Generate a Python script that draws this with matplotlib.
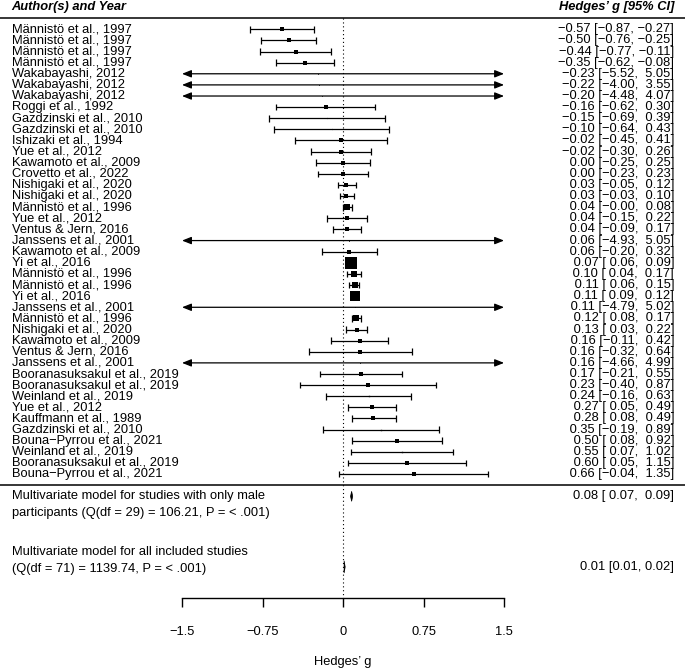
import numpy as np
import matplotlib.pyplot as plt

plt.rcParams['font.family'] = ['Liberation Sans', 'DejaVu Sans']

# study rows, top to bottom
authors = ["Männistö et al., 1997", "Männistö et al., 1997", "Männistö et al., 1997",
           "Männistö et al., 1997", "Wakabayashi, 2012", "Wakabayashi, 2012",
           "Wakabayashi, 2012", "Roggi et al., 1992", "Gazdzinski et al., 2010",
           "Gazdzinski et al., 2010", "Ishizaki et al., 1994", "Yue et al., 2012",
           "Kawamoto et al., 2009", "Crovetto et al., 2022", "Nishigaki et al., 2020",
           "Nishigaki et al., 2020", "Männistö et al., 1996", "Yue et al., 2012",
           "Ventus & Jern, 2016", "Janssens et al., 2001", "Kawamoto et al., 2009",
           "Yi et al., 2016", "Männistö et al., 1996", "Männistö et al., 1996",
           "Yi et al., 2016", "Janssens et al., 2001", "Männistö et al., 1996",
           "Nishigaki et al., 2020", "Kawamoto et al., 2009", "Ventus & Jern, 2016",
           "Janssens et al., 2001", "Booranasuksakul et al., 2019",
           "Booranasuksakul et al., 2019", "Weinland et al., 2019", "Yue et al., 2012",
           "Kauffmann et al., 1989", "Gazdzinski et al., 2010",
           "Bouna\u2212Pyrrou et al., 2021", "Weinland et al., 2019",
           "Booranasuksakul et al., 2019", "Bouna\u2212Pyrrou et al., 2021"]
est = [-0.57, -0.50, -0.44, -0.35, -0.23, -0.22, -0.20, -0.16, -0.15, -0.10, -0.02, -0.02,
       0.00, 0.00, 0.03, 0.03, 0.04, 0.04, 0.04, 0.06, 0.06, 0.07, 0.10, 0.11, 0.11, 0.11,
       0.12, 0.13, 0.16, 0.16, 0.16, 0.17, 0.23, 0.24, 0.27, 0.28, 0.35, 0.50, 0.55, 0.60, 0.66]
lower = [-0.87, -0.76, -0.77, -0.62, -5.52, -4.00, -4.48, -0.62, -0.69, -0.64, -0.45, -0.30,
         -0.25, -0.23, -0.05, -0.03, -0.0, -0.15, -0.09, -4.93, -0.20, 0.06, 0.04, 0.06, 0.09,
         -4.79, 0.08, 0.03, -0.11, -0.32, -4.66, -0.21, -0.40, -0.16, 0.05, 0.08, -0.19, 0.08,
         0.07, 0.05, -0.04]
upper = [-0.27, -0.25, -0.11, -0.08, 5.05, 3.55, 4.07, 0.30, 0.39, 0.43, 0.41, 0.26,
         0.25, 0.23, 0.12, 0.10, 0.08, 0.22, 0.17, 5.05, 0.32, 0.09, 0.17, 0.15, 0.12,
         5.02, 0.17, 0.22, 0.42, 0.64, 4.99, 0.55, 0.87, 0.63, 0.49, 0.49, 0.89, 0.92,
         1.02, 1.15, 1.35]
# square side (points), roughly from weights
sq = [3.0, 3.2, 3.2, 3.2, 0.5, 0.5, 0.5, 2.6, 0.8, 0.8, 2.6, 2.8, 2.8, 2.6, 3.2, 3.2,
      5.0, 2.6, 2.6, 0.5, 2.6, 8.0, 4.4, 5.0, 7.2, 0.5, 4.4, 3.0, 2.6, 2.6, 0.5, 2.6,
      2.6, 1.0, 3.0, 3.0, 1.0, 2.6, 1.0, 2.6, 2.6]

# pooled models
sum_text = [["Multivariate model for studies with only male",
             "participants (Q(df = 29) = 106.21, P = < .001)"],
            ["Multivariate model for all included studies",
             "(Q(df = 71) = 1139.74, P = < .001)"]]
sum_est = [0.08, 0.01]
sum_lo = [0.07, 0.01]
sum_hi = [0.09, 0.02]
sum_lab = ["0.08 [ 0.07,  0.09]", "0.01 [0.01, 0.02]"]

ticks = [-1.5, -0.75, 0, 0.75, 1.5]
tick_labels = ["\u22121.5", "\u22120.75", "0", "0.75", "1.5"]
alim = 1.5

fs = 9.3
fig = plt.figure(figsize=(6.85, 6.69), dpi=100)
ax = fig.add_axes([0, 0, 1, 1])
ax.set_xlim(-3.196, 3.186)
ax.set_ylim(58.53, -1.635)
ax.axis('off')

k = len(est)
rows = np.arange(1, k + 1)
xl = -3.087
xr = 3.084


def fmt(v):
    return f"{v:5.2f}".replace("-", "\u2212")


ax.text(xl, -1.0, "Author(s) and Year", fontsize=fs, fontweight='bold', fontstyle='italic',
        ha='left', va='center')
ax.text(xr, -1.0, "Hedges\u2019 g [95% CI]", fontsize=fs, fontweight='bold', fontstyle='italic',
        ha='right', va='center')
ax.axhline(0, color='black', lw=1.1)
ax.axhline(k + 1, color='black', lw=1.1)
ax.plot([0, 0], [0, 52.1], color='black', lw=0.8, linestyle=(0, (1, 2.5)))

for i in range(k):
    y = rows[i]
    ax.text(xl, y, authors[i], fontsize=fs, ha='left', va='center')
    ax.text(xr, y, f"{fmt(est[i])} [{fmt(lower[i])}, {fmt(upper[i])}]", fontsize=fs,
            ha='right', va='center')
    if lower[i] < -alim or upper[i] > alim:
        ax.annotate('', xy=(alim, y), xytext=(-alim, y),
                    arrowprops=dict(arrowstyle='<|-|>,head_length=0.55,head_width=0.22',
                                    color='black', lw=0.9, shrinkA=0, shrinkB=0))
    else:
        ax.hlines(y, lower[i], upper[i], color='black', lw=0.9)
        ax.vlines([lower[i], upper[i]], y - 0.3, y + 0.3, color='black', lw=0.9)
    ax.plot(est[i], y, marker='s', markersize=sq[i], color='black', mec='black', mew=0)

sum_rows = [43.0, 48.0]
dia_rows = [43.0, 49.35]
dia_h = [0.45, 0.55]
for j in range(2):
    ax.text(xl, sum_rows[j], sum_text[j][0], fontsize=fs, ha='left', va='center')
    ax.text(xl, sum_rows[j] + 1.5, sum_text[j][1], fontsize=fs, ha='left', va='center')
    yd = dia_rows[j]
    ax.fill([sum_lo[j], sum_est[j], sum_hi[j], sum_est[j]],
            [yd, yd - dia_h[j], yd, yd + dia_h[j]], color='black', lw=0.5)
    ax.text(xr, yd, sum_lab[j], fontsize=fs, ha='right', va='center')

# x axis
ax.plot([ticks[0], ticks[-1]], [52.1, 52.1], color='black', lw=1.0)
ax.vlines(ticks, 52.1, 52.95, color='black', lw=1.0)
for t, lab in zip(ticks, tick_labels):
    ax.text(t, 55.2, lab, fontsize=fs, ha='center', va='center')
ax.text(0, 57.9, "Hedges\u2019 g", fontsize=fs, ha='center', va='center')

fig.savefig("out.png", dpi=100)
